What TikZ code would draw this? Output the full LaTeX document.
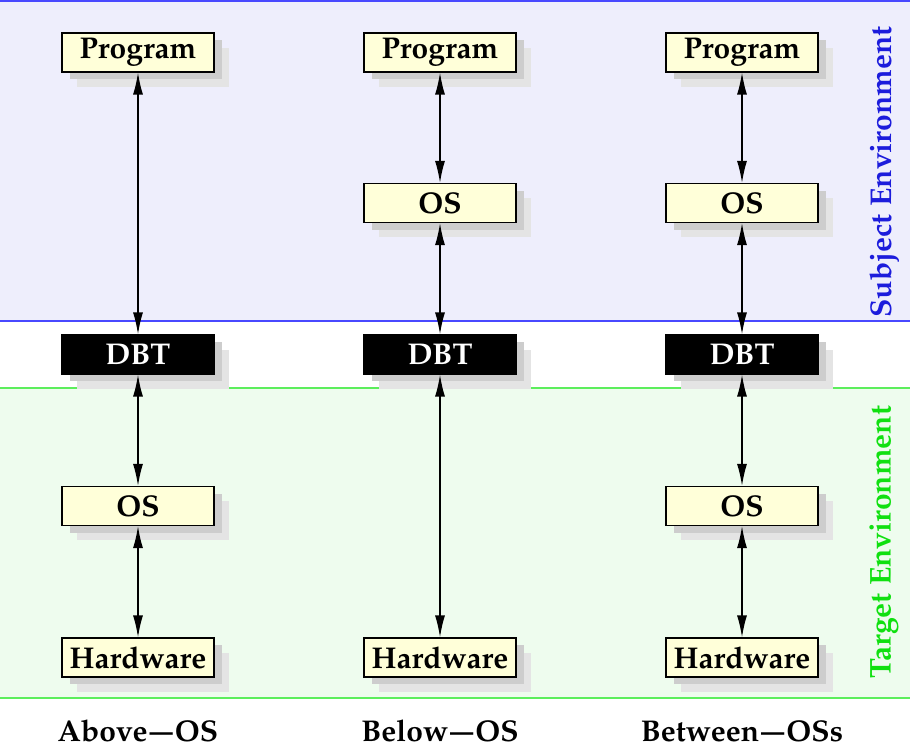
\documentclass[tikz,border=0pt]{standalone}
\usepackage[T1]{fontenc}
\usepackage{mathpazo}
\usepackage{graphicx}
\usepackage{tikz}
\usetikzlibrary{arrows.meta}

\definecolor{boxyellow}{HTML}{FFFFD9}
\definecolor{subjbg}{HTML}{EEEEFC}
\definecolor{targbg}{HTML}{EEFCEE}
\definecolor{subjline}{HTML}{4848FF}
\definecolor{targline}{HTML}{5CEE5C}
\definecolor{subjtext}{HTML}{1C1CDC}
\definecolor{targtext}{HTML}{10E010}
\definecolor{shadowdark}{HTML}{CDCDCD}
\definecolor{shadowlight}{HTML}{E4E4E4}

\tikzset{
  layer/.style={draw=black, line width=0.6pt, fill=boxyellow,
    minimum width=76pt, minimum height=19.5pt, inner sep=0pt,
    font=\fontsize{15}{18}\selectfont\bfseries,
    preaction={fill=shadowlight, draw=none, transform canvas={shift={(7.5pt,-7.5pt)}}},
    preaction={fill=shadowdark, draw=none, transform canvas={shift={(3.75pt,-3.75pt)}}}},
  dbt/.style={layer, fill=black, text=white},
  link/.style={{Latex[length=11pt,width=5pt]}-{Latex[length=11pt,width=5pt]}, line width=0.7pt},
  caption/.style={font=\fontsize{15}{18}\selectfont\bfseries}
}
\newcommand{\dsh}{\kern1pt\scalebox{1.55}[1]{--}\kern1pt}

\begin{document}
\begin{tikzpicture}[x=0.5pt,y=-0.5pt]
\useasboundingbox (0,0) rectangle (910,747);

% environments
\fill[subjbg] (0,0) rectangle (910,321);
\fill[targbg] (0,388) rectangle (910,698);
\draw[subjline, line width=0.75pt] (0,1) -- (910,1);
\draw[subjline, line width=0.75pt] (0,321) -- (910,321);
\draw[targline, line width=0.75pt] (0,388) -- (910,388);
\draw[targline, line width=0.75pt] (0,698) -- (910,698);
\node[caption, rotate=90, text=subjtext] (subj) at (884,172) {Subject Environment};
\node[caption, rotate=90, text=targtext] (targ) at (884,542) {Target Environment};

% Above-OS
\node[layer] (p1) at (138,52.5) {Program};
\node[dbt]   (d1) at (138,354.5) {DBT};
\node[layer] (o1) at (138,506) {OS};
\node[layer] (h1) at (138,657.5) {Hardware};
\draw[link] (p1) -- (d1);
\draw[link] (d1) -- (o1);
\draw[link] (o1) -- (h1);

% Below-OS
\node[layer] (p2) at (440,52.5) {Program};
\node[layer] (s2) at (440,203) {OS};
\node[dbt]   (d2) at (440,354.5) {DBT};
\node[layer] (h2) at (440,657.5) {Hardware};
\draw[link] (p2) -- (s2);
\draw[link] (s2) -- (d2);
\draw[link] (d2) -- (h2);

% Between-OSs
\node[layer] (p3) at (742,52.5) {Program};
\node[layer] (s3) at (742,203) {OS};
\node[dbt]   (d3) at (742,354.5) {DBT};
\node[layer] (o3) at (742,506) {OS};
\node[layer] (h3) at (742,657.5) {Hardware};
\draw[link] (p3) -- (s3);
\draw[link] (s3) -- (d3);
\draw[link] (d3) -- (o3);
\draw[link] (o3) -- (h3);

\node[caption, anchor=base, inner sep=0pt] (c1) at (138,741) {Above\dsh OS};
\node[caption, anchor=base, inner sep=0pt] (c2) at (440,741) {Below\dsh OS};
\node[caption, anchor=base, inner sep=0pt] (c3) at (742,741) {Between\dsh OSs};
\end{tikzpicture}
\end{document}
